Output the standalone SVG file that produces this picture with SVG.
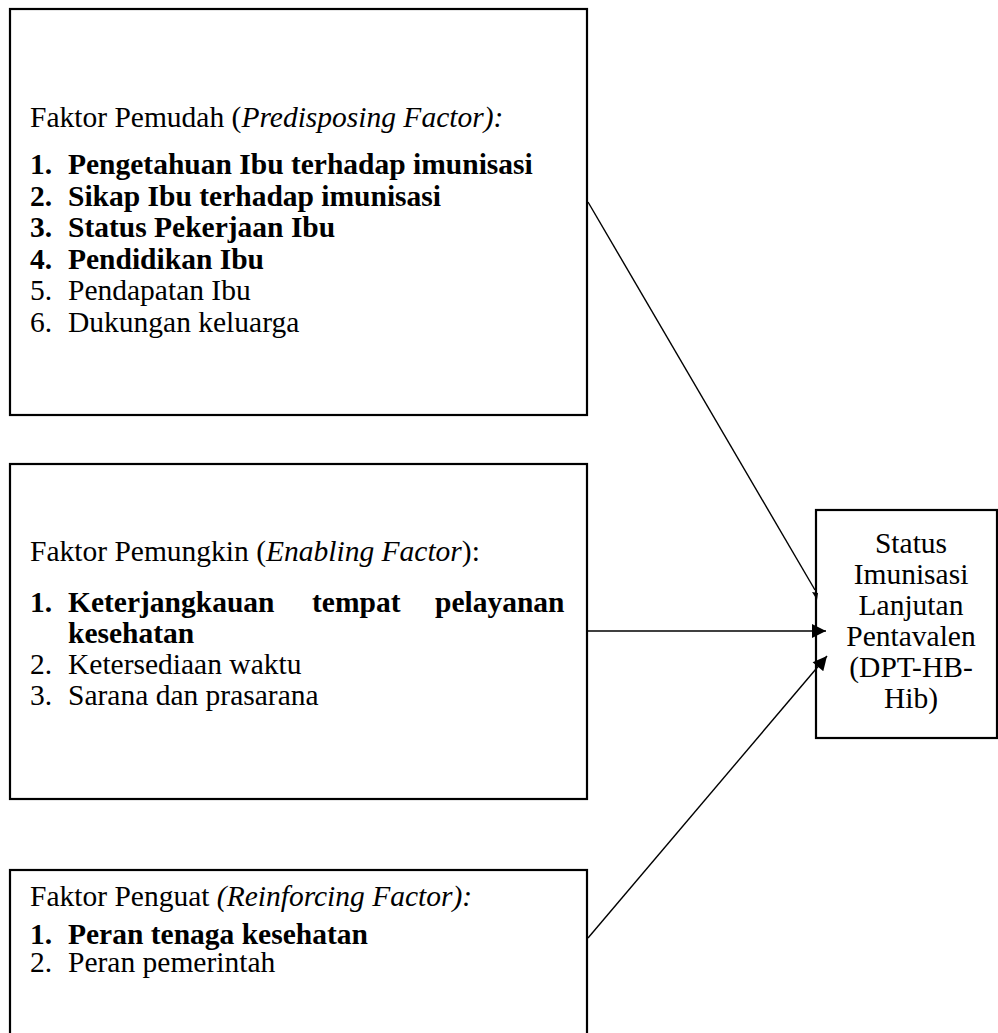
<svg xmlns="http://www.w3.org/2000/svg" width="998" height="1033" viewBox="0 0 998 1033">
<defs>
<style>
.box{fill:#fff;stroke:#000;stroke-width:2.2}
.t{font-family:"Liberation Serif","Times New Roman",serif;font-size:29.5px;fill:#000}
.b{font-weight:bold}
.i{font-style:italic}
.c{text-anchor:middle}
.con{stroke:#000;stroke-width:1.4;fill:none}
</style>
<marker id="arr" viewBox="0 0 10 10" refX="10" refY="5" markerWidth="16" markerHeight="14" markerUnits="userSpaceOnUse" orient="auto">
<path d="M0,0 L10,5 L0,10 z" fill="#000"/>
</marker>
</defs>
<rect width="998" height="1033" fill="#fff"/>
<g id="node-predisposing">
<rect class="box" x="10" y="9" width="577" height="406"/>
<text class="t" x="30" y="127">Faktor Pemudah (<tspan class="i">Predisposing Factor):</tspan></text>
<text class="t b" y="174"><tspan x="30">1.</tspan><tspan x="68">Pengetahuan Ibu terhadap imunisasi</tspan></text>
<text class="t b" y="206"><tspan x="30">2.</tspan><tspan x="68">Sikap Ibu terhadap imunisasi</tspan></text>
<text class="t b" y="237"><tspan x="30">3.</tspan><tspan x="68">Status Pekerjaan Ibu</tspan></text>
<text class="t b" y="269"><tspan x="30">4.</tspan><tspan x="68">Pendidikan Ibu</tspan></text>
<text class="t" y="300"><tspan x="30">5.</tspan><tspan x="68">Pendapatan Ibu</tspan></text>
<text class="t" y="332"><tspan x="30">6.</tspan><tspan x="68">Dukungan keluarga</tspan></text>
</g>
<g id="node-enabling">
<rect class="box" x="10" y="464" width="577" height="335"/>
<text class="t" x="30" y="561">Faktor Pemungkin (<tspan class="i">Enabling Factor</tspan>):</text>
<text class="t b" y="612"><tspan x="30">1.</tspan><tspan x="68">Keterjangkauan</tspan><tspan x="312">tempat</tspan><tspan x="435">pelayanan</tspan></text>
<text class="t b" x="68" y="643">kesehatan</text>
<text class="t" y="674"><tspan x="30">2.</tspan><tspan x="68">Ketersediaan waktu</tspan></text>
<text class="t" y="705"><tspan x="30">3.</tspan><tspan x="68">Sarana dan prasarana</tspan></text>
</g>
<g id="node-reinforcing">
<rect class="box" x="10" y="870" width="577" height="200"/>
<text class="t" x="30" y="906">Faktor Penguat <tspan class="i">(Reinforcing Factor):</tspan></text>
<text class="t b" y="944"><tspan x="30">1.</tspan><tspan x="68">Peran tenaga kesehatan</tspan></text>
<text class="t" y="972"><tspan x="30">2.</tspan><tspan x="68">Peran pemerintah</tspan></text>
</g>
<g id="connectors">
<line class="con" x1="588" y1="202" x2="815" y2="590"/>
<path d="M812,592 L818,593 L817,600 z" fill="#000"/>
<line class="con" x1="588" y1="631" x2="826" y2="631" marker-end="url(#arr)"/>
<line class="con" x1="588" y1="938" x2="827" y2="656" marker-end="url(#arr)"/>
</g>
<g id="node-status">
<rect x="816" y="510" width="181" height="228" fill="none" stroke="#000" stroke-width="2.2"/>
<text class="t c" x="911" y="553">Status</text>
<text class="t c" x="911" y="584">Imunisasi</text>
<text class="t c" x="911" y="615">Lanjutan</text>
<text class="t c" x="911" y="646">Pentavalen</text>
<text class="t c" x="911" y="677">(DPT-HB-</text>
<text class="t c" x="911" y="708">Hib)</text>
</g>
</svg>
